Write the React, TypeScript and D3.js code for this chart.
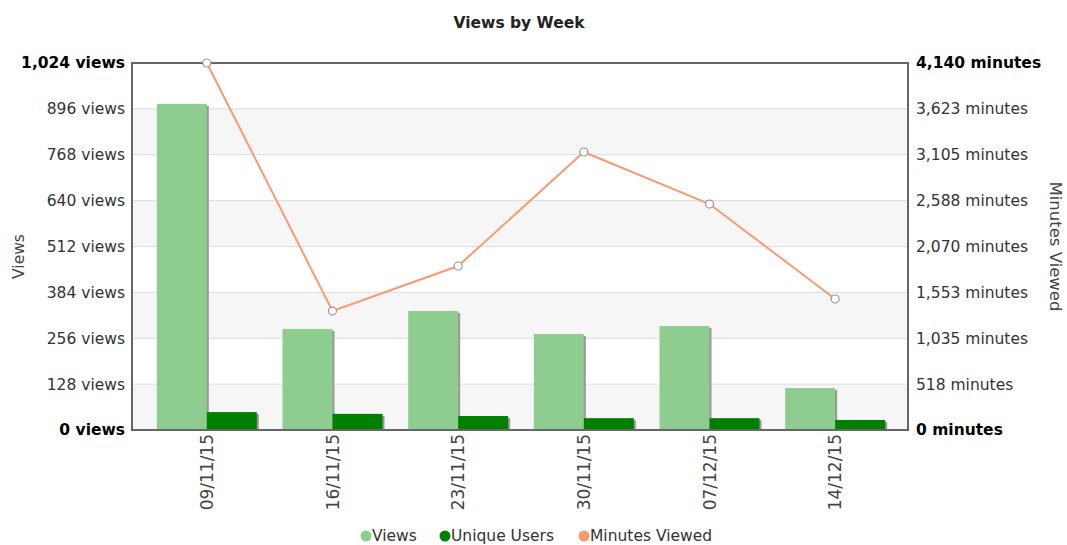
import React, { useEffect, useRef } from 'react';
import * as d3 from 'd3';

const weeks = ['09/11/15', '16/11/15', '23/11/15', '30/11/15', '07/12/15', '14/12/15'];
const views = [910, 282, 332, 268, 290, 117];
const uniqueUsers = [50, 45, 39, 33, 33, 28];
const minutesViewed = [4140, 1342, 1850, 3136, 2549, 1478];
const viewTicks = [0, 128, 256, 384, 512, 640, 768, 896, 1024];
const minuteTicks = [0, 518, 1035, 1553, 2070, 2588, 3105, 3623, 4140];

const W = 1067;
const H = 545;
const margin = { top: 63, right: 159, bottom: 115, left: 132 };
const font = 'Verdana, "DejaVu Sans", sans-serif';

const App = () => {
  const ref = useRef<SVGSVGElement>(null);

  useEffect(() => {
    const svg = d3.select(ref.current);
    svg.selectAll('*').remove();

    const left = margin.left;
    const right = W - margin.right;
    const top = margin.top;
    const bottom = H - margin.bottom;

    const x = d3.scaleBand().domain(weeks).range([left + 12, right - 10]);
    const yV = d3.scaleLinear().domain([0, 1024]).range([bottom, top]);
    const yM = d3.scaleLinear().domain([0, 4140]).range([bottom, top]);

    // alternating bands
    for (let i = 0; i < viewTicks.length - 1; i += 2) {
      svg.append('rect')
        .attr('x', left)
        .attr('y', yV(viewTicks[i + 1]))
        .attr('width', right - left)
        .attr('height', yV(viewTicks[i]) - yV(viewTicks[i + 1]))
        .attr('fill', '#f6f6f6');
    }

    // grid lines
    viewTicks.forEach((t) => {
      svg.append('line')
        .attr('x1', left).attr('x2', right)
        .attr('y1', yV(t)).attr('y2', yV(t))
        .attr('stroke', '#dcdcdc')
        .attr('stroke-width', 1);
    });

    // bars
    const bw = 50;
    weeks.forEach((w, i) => {
      const cx = (x(w) as number) + x.bandwidth() / 2;
      const bars = [
        { v: views[i], x0: cx - bw, color: '#8fcc8f' },
        { v: uniqueUsers[i], x0: cx, color: '#008000' },
      ];
      bars.forEach((b) => {
        svg.append('rect')
          .attr('x', b.x0 + 2)
          .attr('y', yV(b.v) + 2)
          .attr('width', bw)
          .attr('height', bottom - yV(b.v) - 2)
          .attr('fill', '#999');
        svg.append('rect')
          .attr('x', b.x0)
          .attr('y', yV(b.v))
          .attr('width', bw)
          .attr('height', bottom - yV(b.v))
          .attr('fill', b.color);
      });
    });

    // frame
    svg.append('rect')
      .attr('x', left).attr('y', top)
      .attr('width', right - left).attr('height', bottom - top)
      .attr('fill', 'none')
      .attr('stroke', '#666')
      .attr('stroke-width', 2);

    // line
    const pts = weeks.map((w, i) => [(x(w) as number) + x.bandwidth() / 2, yM(minutesViewed[i])] as [number, number]);
    svg.append('path')
      .attr('d', d3.line()(pts))
      .attr('fill', 'none')
      .attr('stroke', '#fa9a74')
      .attr('stroke-width', 2);
    pts.forEach((p) => {
      svg.append('circle')
        .attr('cx', p[0]).attr('cy', p[1]).attr('r', 4)
        .attr('fill', '#fff')
        .attr('stroke', '#999')
        .attr('stroke-width', 1.2);
    });

    // left axis labels
    viewTicks.forEach((t, i) => {
      const edge = i === 0 || i === viewTicks.length - 1;
      svg.append('text')
        .attr('x', left - 7)
        .attr('y', yV(t))
        .attr('dy', '0.35em')
        .attr('text-anchor', 'end')
        .attr('font-family', font)
        .attr('font-size', 15.5)
        .attr('font-weight', edge ? 'bold' : 'normal')
        .attr('fill', edge ? '#000' : '#333')
        .text(`${d3.format(',')(t)} views`);
    });

    // right axis labels
    minuteTicks.forEach((t, i) => {
      const edge = i === 0 || i === minuteTicks.length - 1;
      svg.append('text')
        .attr('x', right + 8)
        .attr('y', yM(t))
        .attr('dy', '0.35em')
        .attr('text-anchor', 'start')
        .attr('font-family', font)
        .attr('font-size', 15.5)
        .attr('font-weight', edge ? 'bold' : 'normal')
        .attr('fill', edge ? '#000' : '#333')
        .text(`${d3.format(',')(t)} minutes`);
    });

    // x labels
    weeks.forEach((w) => {
      const cx = (x(w) as number) + x.bandwidth() / 2;
      svg.append('text')
        .attr('transform', `translate(${cx + 6},${bottom + 4}) rotate(-90)`)
        .attr('text-anchor', 'end')
        .attr('font-family', font)
        .attr('font-size', 17)
        .attr('fill', '#444')
        .text(w);
    });

    // axis titles
    svg.append('text')
      .attr('transform', `translate(24,${(top + bottom) / 2 + 10}) rotate(-90)`)
      .attr('text-anchor', 'middle')
      .attr('font-family', font)
      .attr('font-size', 15.5)
      .attr('fill', '#444')
      .text('Views');
    svg.append('text')
      .attr('transform', `translate(1050,${(top + bottom) / 2}) rotate(90)`)
      .attr('text-anchor', 'middle')
      .attr('font-family', font)
      .attr('font-size', 16.5)
      .attr('fill', '#444')
      .text('Minutes Viewed');

    // title
    svg.append('text')
      .attr('x', 519)
      .attr('y', 28)
      .attr('text-anchor', 'middle')
      .attr('font-family', font)
      .attr('font-size', 15.5)
      .attr('font-weight', 'bold')
      .attr('fill', '#222')
      .text('Views by Week');

    // legend
    const legend = [
      { name: 'Views', color: '#8fcc8f', x: 366 },
      { name: 'Unique Users', color: '#008000', x: 445 },
      { name: 'Minutes Viewed', color: '#fa9a74', x: 584 },
    ];
    legend.forEach((l) => {
      svg.append('circle')
        .attr('cx', l.x).attr('cy', 536).attr('r', 5.5)
        .attr('fill', l.color);
    });
    legend.forEach((l) => {
      svg.append('text')
        .attr('x', l.x + 6)
        .attr('y', 536)
        .attr('dy', '0.35em')
        .attr('font-family', font)
        .attr('font-size', 15.5)
        .attr('fill', '#333')
        .text(l.name);
    });
  }, []);

  return <svg ref={ref} width={W} height={H} style={{ display: 'block', position: 'absolute', left: 0, top: 0 }} />;
};

export default App;
